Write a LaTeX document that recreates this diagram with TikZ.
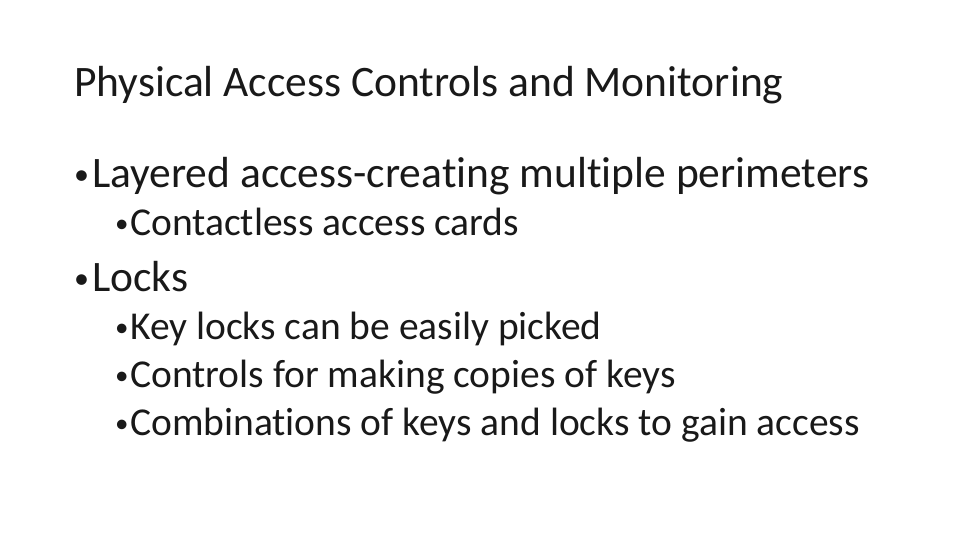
\documentclass[tikz,border=0pt]{standalone}
\usepackage{fontspec}
\setmainfont[Ligatures=NoCommon]{Carlito}
\begin{document}
\begin{tikzpicture}[x=1pt,y=1pt,
  txt/.style={anchor=base west,inner sep=0pt,text=black!90},
  title/.style={txt,font=\fontsize{43.5}{48}\selectfont},
  lone/.style={txt,font=\fontsize{43.5}{48}\selectfont},
  ltwo/.style={txt,font=\fontsize{39.5}{44}\selectfont},
  bone/.style={txt,font=\fontsize{30}{36}\selectfont},
  btwo/.style={txt,font=\fontsize{27}{32}\selectfont}]
\useasboundingbox (0,0) rectangle (960,540);
\node[title] (t) at (74,443) {Physical Access Controls and Monitoring};
\node[bone] (ab) at (74,355) {\textbullet};
\node[lone] (a) at (92,352) {Layered access-creating multiple perimeters};
\node[btwo] (a1b) at (115,307) {\textbullet};
\node[ltwo] (a1) at (130,304) {Contactless access cards};
\node[bone] (bb) at (74,251) {\textbullet};
\node[lone] (b) at (92,248) {Locks};
\node[btwo] (b1b) at (115,203) {\textbullet};
\node[ltwo] (b1) at (130,200) {Key locks can be easily picked};
\node[btwo] (b2b) at (115,155) {\textbullet};
\node[ltwo] (b2) at (130,152) {Controls for making copies of keys};
\node[btwo] (b3b) at (115,107) {\textbullet};
\node[ltwo] (b3) at (130,104) {Combinations of keys and locks to gain access};
\end{tikzpicture}
\end{document}
